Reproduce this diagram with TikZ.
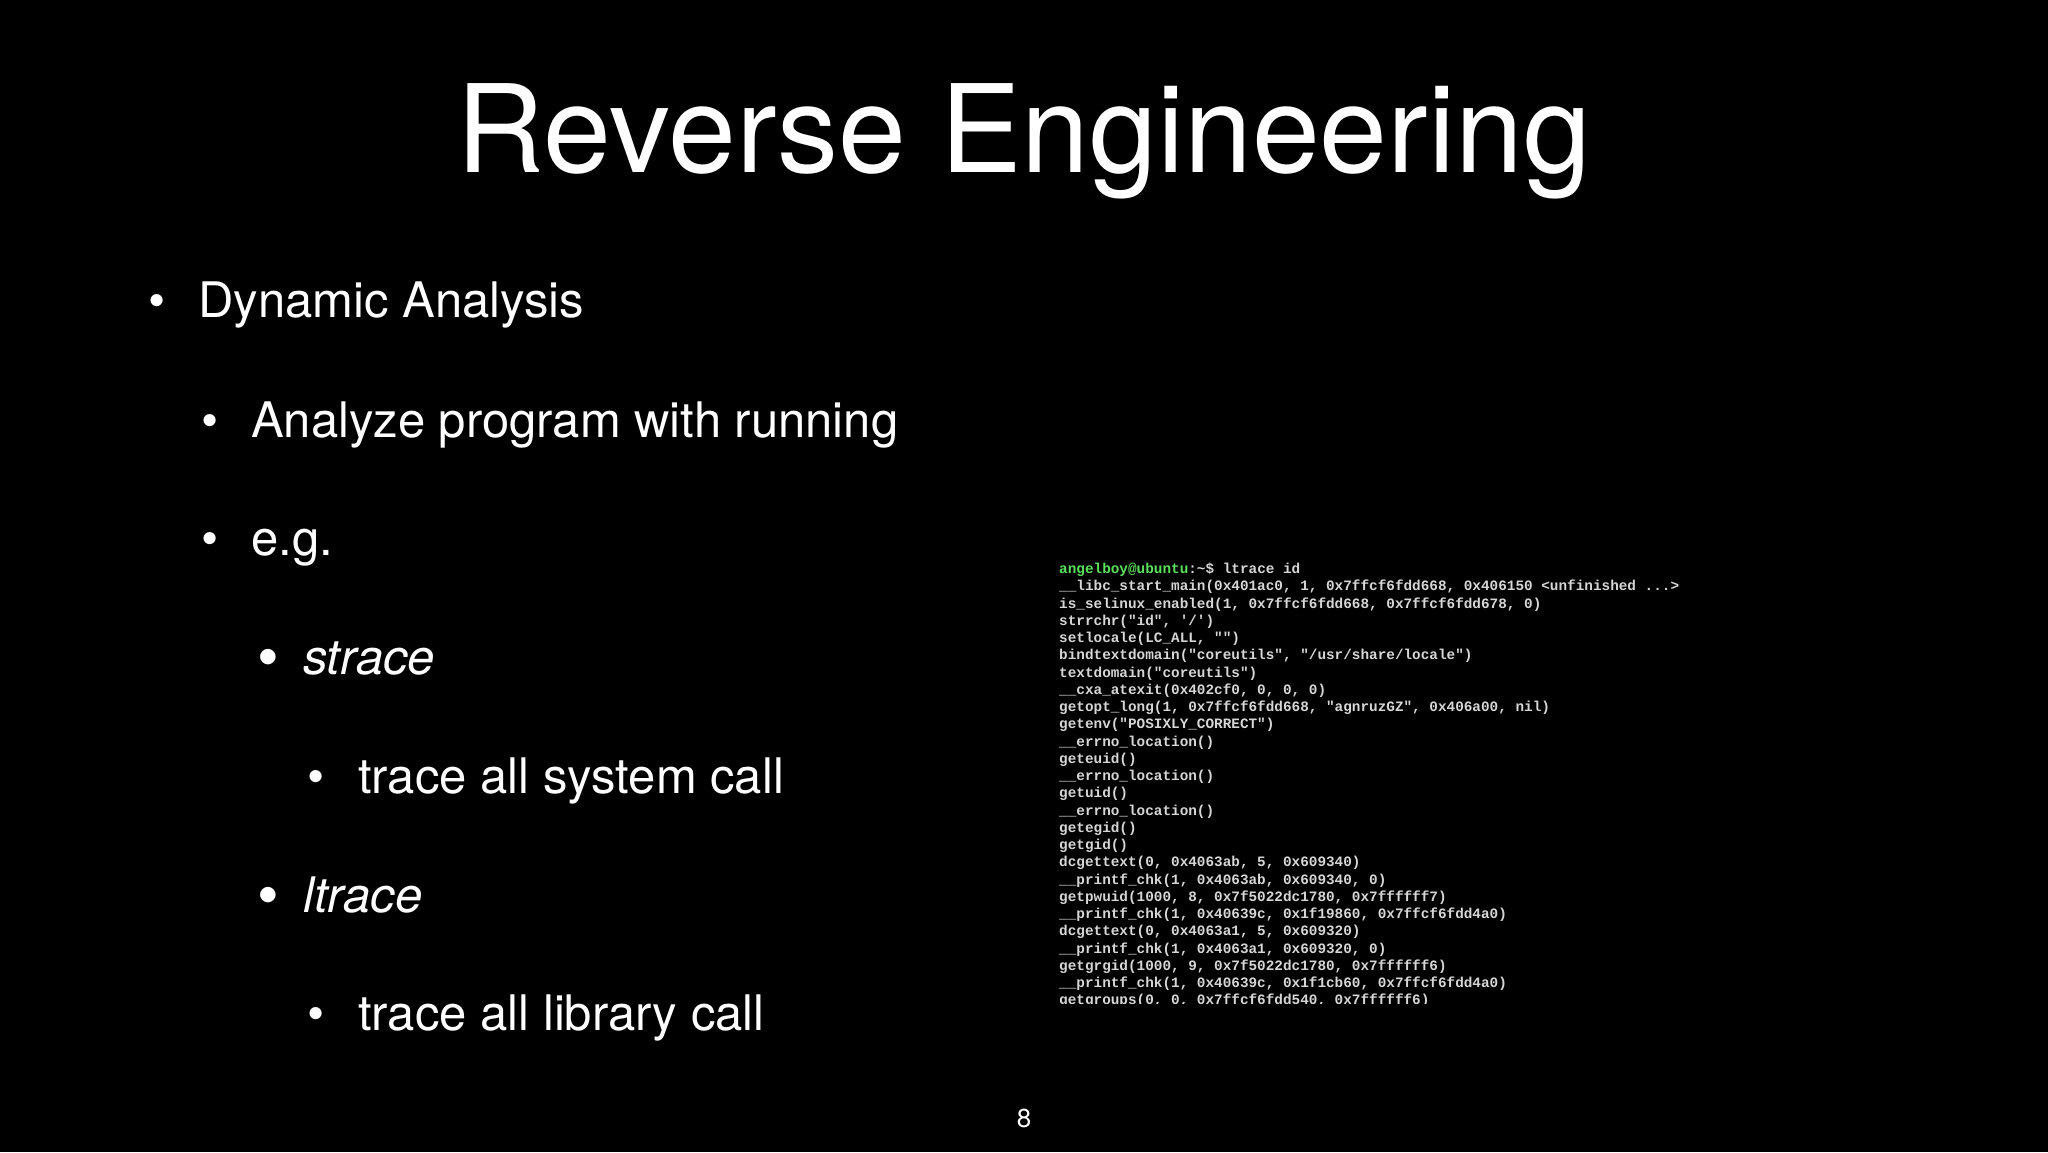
\documentclass[tikz,border=0pt]{standalone}
\usepackage{fontspec}
\setmainfont{TeX Gyre Heros}
\setmonofont{Liberation Mono}
\begin{document}
\begin{tikzpicture}[x=1pt,y=-1pt,
  txt/.style={anchor=base west,inner sep=0pt,text=white,font=\fontsize{49}{55}\selectfont},
  bul/.style={anchor=base,inner sep=0pt,text=white,font=\fontsize{49}{55}\selectfont},
  term/.style={anchor=north west,inner sep=0pt,text=termgray,font=\ttfamily\bfseries\fontsize{14.35}{17.25}\selectfont,align=left}]
\definecolor{termgray}{HTML}{D6D6D6}
\definecolor{termgreen}{HTML}{5BE05B}
\fill[black] (0,0) rectangle (2048,1152);
\useasboundingbox (0,0) rectangle (2048,1152);
\node[anchor=base,inner sep=0pt,text=white,font=\fontsize{122}{130}\selectfont] (title) at (1024,172) {Reverse Engineering};
\node[bul] (b1) at (157,317) {•};
\node[txt] (t1) at (198,317) {Dynamic Analysis};
\node[bul] (b2) at (210,437) {•};
\node[txt] (t2) at (251,437) {Analyze program with running};
\node[bul] (b3) at (210,555) {•};
\node[txt] (t3) at (251,555) {e.g.};
\node[bul,font=\fontsize{62}{66}\selectfont] (b4) at (268,678) {•};
\node[txt] (t4) at (303,674) {\itshape strace};
\node[bul] (b5) at (316,793) {•};
\node[txt] (t5) at (358,793) {trace all system call};
\node[bul,font=\fontsize{62}{66}\selectfont] (b6) at (268,916) {•};
\node[txt] (t6) at (303,912) {\itshape ltrace};
\node[bul] (b7) at (316,1030) {•};
\node[txt] (t7) at (358,1030) {trace all library call};
\node[anchor=base,inner sep=0pt,text=white,font=\fontsize{26}{30}\selectfont] (pg) at (1024,1127) {8};
\begin{scope}
\clip (1040,550) rectangle (1700,1003);
\node[term] (term) at (1059,563) {\textcolor{termgreen}{angelboy@ubuntu}:\textcolor{termgray}{\char`~\$ ltrace id}\\
\_\_libc\_start\_main(0x401ac0, 1, 0x7ffcf6fdd668, 0x406150 <unfinished ...>\\
is\_selinux\_enabled(1, 0x7ffcf6fdd668, 0x7ffcf6fdd678, 0)\\
strrchr("id", '/')\\
setlocale(LC\_ALL, "")\\
bindtextdomain("coreutils", "/usr/share/locale")\\
textdomain("coreutils")\\
\_\_cxa\_atexit(0x402cf0, 0, 0, 0)\\
getopt\_long(1, 0x7ffcf6fdd668, "agnruzGZ", 0x406a00, nil)\\
getenv("POSIXLY\_CORRECT")\\
\_\_errno\_location()\\
geteuid()\\
\_\_errno\_location()\\
getuid()\\
\_\_errno\_location()\\
getegid()\\
getgid()\\
dcgettext(0, 0x4063ab, 5, 0x609340)\\
\_\_printf\_chk(1, 0x4063ab, 0x609340, 0)\\
getpwuid(1000, 8, 0x7f5022dc1780, 0x7ffffff7)\\
\_\_printf\_chk(1, 0x40639c, 0x1f19860, 0x7ffcf6fdd4a0)\\
dcgettext(0, 0x4063a1, 5, 0x609320)\\
\_\_printf\_chk(1, 0x4063a1, 0x609320, 0)\\
getgrgid(1000, 9, 0x7f5022dc1780, 0x7ffffff6)\\
\_\_printf\_chk(1, 0x40639c, 0x1f1cb60, 0x7ffcf6fdd4a0)\\
getgroups(0, 0, 0x7ffcf6fdd540, 0x7ffffff6)};
\end{scope}
\end{tikzpicture}
\end{document}
